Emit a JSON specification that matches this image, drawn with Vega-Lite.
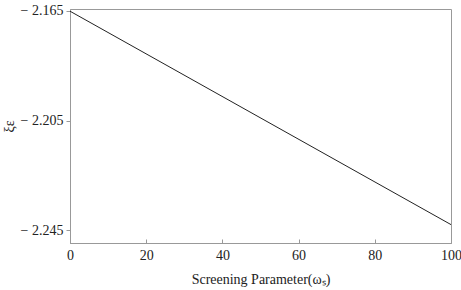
{
  "$schema": "https://vega.github.io/schema/vega-lite/v6.json",
  "autosize": "none",
  "width": 381,
  "height": 234,
  "padding": {"left": 70, "top": 9, "right": 10, "bottom": 47},
  "background": "white",
  "config": {
    "view": {"stroke": "#999999", "strokeWidth": 1},
    "font": "Liberation Serif",
    "axis": {
      "labelFont": "Liberation Serif",
      "titleFont": "Liberation Serif",
      "labelFontSize": 14,
      "titleFontSize": 14,
      "titleFontWeight": "normal",
      "labelColor": "#222222",
      "titleColor": "#222222",
      "domainColor": "#999999",
      "tickColor": "#999999",
      "grid": false
    }
  },
  "data": {
    "values": [
      {"w": 0, "xi": -2.1651},
      {"w": 100, "xi": -2.2429}
    ]
  },
  "mark": {"type": "line", "color": "#222222", "strokeWidth": 1},
  "encoding": {
    "x": {
      "field": "w",
      "type": "quantitative",
      "scale": {"domain": [0, 100], "nice": false},
      "axis": {
        "values": [0, 20, 40, 60, 80, 100],
        "title": "Screening Parameter(ωₛ)",
        "labelFlush": false,
        "labelOverlap": false,
        "tickSize": -4,
        "labelPadding": 9,
        "titlePadding": 10
      }
    },
    "y": {
      "field": "xi",
      "type": "quantitative",
      "scale": {"domain": [-2.2496, -2.1643], "nice": false, "zero": false},
      "axis": {
        "values": [-2.165, -2.205, -2.245],
        "format": ".3f",
        "labelExpr": "replace(datum.label, '−', '− ')",
        "labelFlush": false,
        "title": "ξε",
        "tickSize": 4,
        "labelPadding": 3,
        "titlePadding": 4
      }
    }
  }
}
